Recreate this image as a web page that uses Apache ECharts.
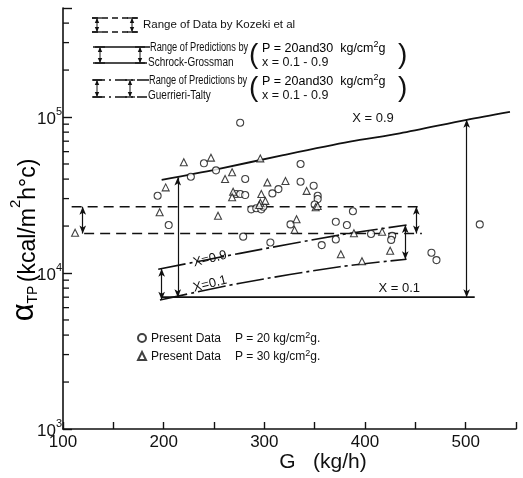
<!DOCTYPE html>
<html><head><meta charset="utf-8">
<script src="https://cdn.jsdelivr.net/npm/echarts@6/dist/echarts.min.js"></script>
<style>html,body{margin:0;padding:0;background:#fff}#c{width:523px;height:478px}</style>
</head><body><div id="c"></div>
<script>
// ---------- data ----------
const xMin = 100, xMax = 550, xStep = 50;
const xLabelValues = [100, 200, 300, 400, 500];
const yMin = 1000, yMax = 500000;
const yMinorTicks = [2000,3000,4000,5000,6000,7000,8000,9000,
  20000,30000,40000,50000,60000,70000,80000,90000,
  200000,300000,400000];

// Present data P = 20 kg/cm2g (circles)  [G, alpha]
const circlesP20 = [
  [276,92000],[240,50500],[252,45500],[227,41400],[281,40100],[336,50000],[336,38500],
  [194,31300],[205,20300],[272,32100],[276,32100],[281,31600],[308,32400],[314,34500],
  [349,36300],[353,31300],[353,29800],[350,27500],[287,25600],[292,26000],[297,25600],
  [299,26600],[388,24900],[326,20500],[371,21300],[382,20300],[279,17100],[306,15700],
  [357,15100],[371,16400],[406,17800],[427,17300],[426,16300],[514,20500],[466,13500],
  [471,12100]
];
// Present data P = 30 kg/cm2g (triangles)
const trianglesP30 = [
  [220,51300],[247,54900],[296,54300],[268,44300],[261,40100],[202,35400],[303,38100],
  [321,38900],[269,33200],[268,30600],[297,32100],[342,33600],[296,28200],[301,29000],
  [295,27300],[351,26400],[196,24500],[254,23300],[332,22100],[330,18900],[389,18000],
  [417,18400],[376,13200],[397,11900],[425,13900],[353,26900],[112,18100]
];
// Range of data by Kozeki et al (dashed)
const kozekiUpper = [[108.6,26600],[456.5,26600]];
const kozekiLower = [[121,17900],[456.5,17900]];
// Schrock-Grossman predictions (solid)
const sgUpper = [[198,39500],[252.6,46200],[318.8,57000],[385,69500],[434.6,78500],[501,96000],[544,108000]];
const sgLower = [[198,7000],[509,7000]];
// Guerrieri-Talty predictions (dash-dot)
const gtUpper = [[194.6,10570],[275.8,13370],[375,17530],[441.3,20300]];
const gtLower = [[196.3,6710],[275.8,8600],[375,10970],[441.3,12250]];
// range arrows [G, low, high]
const rangeArrows = [
  [119.6,17900,26600],[451,17900,26600],
  [214,7000,41000],[501,7000,96000],
  [198,6750,10650],[440,12250,20300]
];
// curve labels [G, alpha, text, rotate]
const curveLabels = [
  [408,98000,'X = 0.9',0],[434,8000,'X = 0.1',0],
  [246,12300,'X=0.9',14],[246,8500,'X=0.1',14]
];

// ---------- chart ----------
const INK = '#111';
const FONT = 'Liberation Sans, Arial, sans-serif';
const chart = echarts.init(document.getElementById('c'), null, {renderer:'canvas'});

function lineSeries(data, dash, width, smooth) {
  return {type:'line', data, showSymbol:false, symbol:'none', smooth: smooth ? 0.3 : false,
    silent:true, animation:false,
    lineStyle:{color:INK, width: width, type: dash}};
}

function legendArrow(x, y1, y2) {
  return [
    {type:'line', shape:{x1:x,y1:y1+1,x2:x,y2:y2-1}, style:{stroke:INK,lineWidth:1}},
    {type:'polygon', shape:{points:[[x,y1],[x-2.2,y1+5],[x+2.2,y1+5]]}, style:{fill:INK}},
    {type:'polygon', shape:{points:[[x,y2],[x-2.2,y2-5],[x+2.2,y2-5]]}, style:{fill:INK}},
    {type:'line', shape:{x1:x-5,y1:y1,x2:x+5,y2:y1}, style:{stroke:INK,lineWidth:1.3}},
    {type:'line', shape:{x1:x-5,y1:y2,x2:x+5,y2:y2}, style:{stroke:INK,lineWidth:1.3}}
  ];
}
function hline(x1,x2,y,dash){
  return {type:'line', shape:{x1,y1:y,x2,y2:y}, style:{stroke:INK,lineWidth:1.3,lineDash:dash}};
}
function txt(x,y,text,size,sx){
  return {type:'text', x, y, scaleX: sx || 1,
    style:{text, fill:INK, font: size+'px '+FONT, verticalAlign:'middle', align:'left'}};
}
const supRich = {
  n:{fontSize:12.5, fontFamily:FONT, color:INK, lineHeight:15, verticalAlign:'bottom'},
  s:{fontSize:9, fontFamily:FONT, color:INK, lineHeight:9, verticalAlign:'top'}
};

const graphics = [].concat(
  // Kozeki legend row
  hline(92,138,18,[6,4]), hline(92,138,32,[6,4]),
  legendArrow(97,18,32), legendArrow(132,18,32),
  [txt(143,25,'Range of Data by Kozeki et al',11.5)],
  // Schrock-Grossman row
  hline(93,150,47,null), hline(93,147,63,null),
  legendArrow(100,47,63), legendArrow(140,47,63),
  [txt(150,48,'Range of Predictions by',12.5,0.74), txt(148,63,'Schrock-Grossman',12.5,0.8)],
  // Guerrieri-Talty row
  hline(93,150,80,[12,4,2,4]), hline(93,147,97,[12,4,2,4]),
  legendArrow(97,80,97), legendArrow(130,80,97),
  [txt(149,81,'Range of Predictions by',12.5,0.74), txt(148,96,'Guerrieri-Talty',12.5,0.8)],
  // parenthesised conditions
  [txt(249,55,'(',28),
   {type:'text', x:262, y:48, style:{text:'{n|P = 20and30  kg/cm}{s|2}{n|g}', rich:supRich, verticalAlign:'middle'}},
   txt(262,63,'x = 0.1 - 0.9',12.5),
   txt(398,55,')',28),
   txt(249,88,'(',28),
   {type:'text', x:262, y:81, style:{text:'{n|P = 20and30  kg/cm}{s|2}{n|g}', rich:supRich, verticalAlign:'middle'}},
   txt(262,96,'x = 0.1 - 0.9',12.5),
   txt(398,88,')',28)],
  // y-axis title
  [{type:'text', x:24, y:240, rotation:Math.PI/2,
    style:{text:'{a|α}{t|TP} {n|(kcal/m}{s|2}{n|h°c)}', align:'center', verticalAlign:'middle',
      rich:{
        a:{fontSize:31, fontFamily:FONT, color:INK, lineHeight:32, verticalAlign:'bottom'},
        t:{fontSize:14, fontFamily:FONT, color:INK, lineHeight:12, verticalAlign:'bottom'},
        n:{fontSize:23, fontFamily:FONT, color:INK, lineHeight:27, verticalAlign:'bottom'},
        s:{fontSize:15, fontFamily:FONT, color:INK, lineHeight:15, verticalAlign:'top'}
      }}}],
  // x-axis title
  [{type:'text', x:323, y:462, style:{text:'G   (kg/h)', fill:INK, font:'21px '+FONT, align:'center', verticalAlign:'middle'}}]
);

const option = {
  animation:false,
  backgroundColor:'#fff',
  grid:{left:63, right:7, top:8, bottom:49},
  xAxis:{type:'value', min:xMin, max:xMax, interval:xStep,
    axisLine:{lineStyle:{color:INK, width:1.6}},
    axisTick:{inside:true, length:7, lineStyle:{color:INK, width:1.4}},
    splitLine:{show:false},
    axisLabel:{color:INK, fontSize:17, fontFamily:FONT, margin:5,
      formatter:v => xLabelValues.indexOf(v) >= 0 ? String(v) : ''}},
  yAxis:{type:'log', logBase:10, min:yMin, max:yMax,
    axisLine:{lineStyle:{color:INK, width:1.6}},
    axisTick:{inside:true, length:9, lineStyle:{color:INK, width:1.4}},
    splitLine:{show:false},
    axisLabel:{margin:1, color:INK,
      formatter:v => {
        const l = Math.log10(v), e = Math.round(l);
        if (Math.abs(l - e) > 1e-6) return '';
        return '{b|10}{s|' + e + '}';
      },
      rich:{
        b:{fontSize:17, fontFamily:FONT, color:INK, lineHeight:22, verticalAlign:'bottom'},
        s:{fontSize:11, fontFamily:FONT, color:INK, lineHeight:12, verticalAlign:'top'}
      }}},
  legend:{show:true, orient:'vertical', left:132, top:326, itemWidth:8, itemHeight:8, itemGap:4,
    data:['P20','P30'], selectedMode:false,
    formatter:name => name === 'P20'
      ? '{a|Present Data}{n|P = 20 kg/cm}{s|2}{n|g.}'
      : '{a|Present Data}{n|P = 30 kg/cm}{s|2}{n|g.}',
    textStyle:{rich:{
      a:{fontSize:12, fontFamily:FONT, color:INK, width:84, lineHeight:14, verticalAlign:'bottom'},
      n:{fontSize:12, fontFamily:FONT, color:INK, lineHeight:14, verticalAlign:'bottom'},
      s:{fontSize:9, fontFamily:FONT, color:INK, lineHeight:9, verticalAlign:'top'}
    }}},
  graphic:graphics,
  series:[
    {name:'P20', type:'scatter', data:circlesP20, symbol:'circle', symbolSize:7,
      itemStyle:{color:'#fff', borderColor:INK, borderWidth:1.1}, z:5},
    {name:'P30', type:'scatter', data:trianglesP30, symbol:'triangle', symbolSize:7,
      itemStyle:{color:'#fff', borderColor:INK, borderWidth:1.1}, z:5},
    lineSeries(kozekiUpper, [10,6], 1.5, false),
    lineSeries(kozekiLower, [10,6], 1.5, false),
    Object.assign(lineSeries(sgUpper, 'solid', 1.8, true), {
      markPoint:{silent:true, symbol:'circle', symbolSize:0, data:[{coord:[curveLabels[0][0],curveLabels[0][1]], value:curveLabels[0][2]}],
        label:{show:true, color:INK, fontSize:13, fontFamily:FONT, formatter:p=>p.value, position:'inside'}}}),
    Object.assign(lineSeries(sgLower, 'solid', 1.8, false), {
      markPoint:{silent:true, symbol:'circle', symbolSize:0, data:[{coord:[curveLabels[1][0],curveLabels[1][1]], value:curveLabels[1][2]}],
        label:{show:true, color:INK, fontSize:13, fontFamily:FONT, formatter:p=>p.value, position:'inside'}}}),
    Object.assign(lineSeries(gtUpper, [28,4,3,4], 1.6, true), {
      markPoint:{silent:true, symbol:'circle', symbolSize:0, data:[{coord:[curveLabels[2][0],curveLabels[2][1]], value:curveLabels[2][2]}],
        label:{show:true, color:INK, fontSize:13, fontFamily:FONT, rotate:curveLabels[2][3], formatter:p=>p.value, position:'inside'}}}),
    Object.assign(lineSeries(gtLower, [28,4,3,4], 1.6, true), {
      markPoint:{silent:true, symbol:'circle', symbolSize:0, data:[{coord:[curveLabels[3][0],curveLabels[3][1]], value:curveLabels[3][2]}],
        label:{show:true, color:INK, fontSize:13, fontFamily:FONT, rotate:curveLabels[3][3], formatter:p=>p.value, position:'inside'}}}),
    {type:'line', data:[], silent:true,
      markLine:{silent:true, symbol:['arrow','arrow'], symbolSize:[5,8], animation:false,
        label:{show:false}, lineStyle:{color:INK, width:1.2, type:'solid'},
        data:rangeArrows.map(a => [{coord:[a[0],a[1]]},{coord:[a[0],a[2]]}])}},
    {type:'custom', silent:true, clip:false, data:yMinorTicks.map(v => [xMin, v]),
      renderItem:(params, api) => {
        const p = api.coord([api.value(0), api.value(1)]);
        return {type:'line', shape:{x1:p[0], y1:p[1], x2:p[0]+6, y2:p[1]},
          style:{stroke:INK, lineWidth:1.3}};
      }}
  ]
};
chart.setOption(option);
</script></body></html>
